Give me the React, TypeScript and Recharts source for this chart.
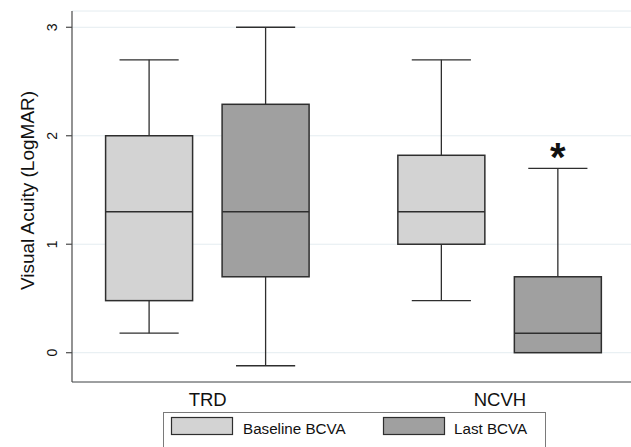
import React from 'react';
import { ComposedChart, Bar, XAxis, YAxis, CartesianGrid, Legend } from 'recharts';

const categories = ['TRD', 'NCVH'];
const seriesNames = ['Baseline BCVA', 'Last BCVA'];

const baselineMin = [0.18, 0.48];
const baselineQ1 = [0.48, 1.0];
const baselineMedian = [1.3, 1.3];
const baselineQ3 = [2.0, 1.82];
const baselineMax = [2.7, 2.7];
const baselineMarks = ['', ''];

const lastMin = [-0.12, 0.0];
const lastQ1 = [0.7, 0.0];
const lastMedian = [1.3, 0.18];
const lastQ3 = [2.29, 0.7];
const lastMax = [3.0, 1.7];
const lastMarks = ['', '*'];

const yTicks = [0, 1, 2, 3];
const yDomain = [-0.27, 3.15];
const yTitle = 'Visual Acuity (LogMAR)';

const FONT = '"Liberation Sans", Arial, Helvetica, sans-serif';
const BASE_FILL = '#d3d3d3';
const LAST_FILL = '#a0a0a0';
const EDGE = '#2e2e2e';
const AXIS = '#4a4a4a';

const data = categories.map((c, i) => ({
  category: c,
  baseline: [baselineMin[i], baselineMax[i]],
  baselineStats: {
    min: baselineMin[i], q1: baselineQ1[i], median: baselineMedian[i], q3: baselineQ3[i], max: baselineMax[i], mark: baselineMarks[i],
  },
  last: [lastMin[i], lastMax[i]],
  lastStats: {
    min: lastMin[i], q1: lastQ1[i], median: lastMedian[i], q3: lastQ3[i], max: lastMax[i], mark: lastMarks[i],
  },
}));

const makeBoxShape = (statsKey: string, fill: string) => (props: any) => {
  const { x, y, width, height, payload } = props;
  const s = payload && payload[statsKey];
  if (!s || x == null || y == null) return <g />;
  const top = Math.min(y, y + height);
  const bottom = Math.max(y, y + height);
  const span = s.max - s.min;
  const py = (v: number) => (span === 0 ? top : top + ((s.max - v) / span) * (bottom - top));
  const cx = x + width / 2;
  const capHalf = width * 0.34;
  const yMax = py(s.max);
  const yMin = py(s.min);
  const yQ1 = py(s.q1);
  const yQ3 = py(s.q3);
  const yMed = py(s.median);
  return (
    <g>
      <line x1={cx} x2={cx} y1={yMax} y2={yQ3} stroke={EDGE} strokeWidth={1.3} />
      <line x1={cx} x2={cx} y1={yQ1} y2={yMin} stroke={EDGE} strokeWidth={1.3} />
      <line x1={cx - capHalf} x2={cx + capHalf} y1={yMax} y2={yMax} stroke={EDGE} strokeWidth={1.3} />
      {Math.abs(yMin - yQ1) > 0.5 && (
        <line x1={cx - capHalf} x2={cx + capHalf} y1={yMin} y2={yMin} stroke={EDGE} strokeWidth={1.3} />
      )}
      <rect x={x} y={yQ3} width={width} height={yQ1 - yQ3} fill={fill} stroke={EDGE} strokeWidth={1.5} />
      <line x1={x} x2={x + width} y1={yMed} y2={yMed} stroke={EDGE} strokeWidth={1.5} />
      {s.mark ? (
        <text x={cx} y={yMax + 3} textAnchor="middle" fontSize={40} fontWeight="bold" fill="#111" fontFamily={FONT}>
          {s.mark}
        </text>
      ) : null}
    </g>
  );
};

const YTick = (props: any) => {
  const { x, y, payload } = props;
  const bx = x - 6.5;
  return (
    <text x={bx} y={y} transform={`rotate(-90, ${bx}, ${y})`} textAnchor="middle" fontSize={14} fill="#111" fontFamily={FONT}>
      {payload.value}
    </text>
  );
};

const YTitle = (props: any) => {
  const vb = props.viewBox || { x: 0, y: 0, width: 72, height: 371 };
  const tx = vb.x + 33.5;
  const ty = vb.y + vb.height / 2 - 6;
  return (
    <text x={tx} y={ty} transform={`rotate(-90, ${tx}, ${ty})`} textAnchor="middle" fontSize={19} fill="#111" fontFamily={FONT}>
      {yTitle}
    </text>
  );
};

const legendSwatchX = [8, 220];
const legendTextX = [80, 291];

const renderLegend = (props: any) => {
  const items = props.payload || [];
  return (
    <svg width={383} height={40} style={{ display: 'block' }}>
      <rect x={0.5} y={0.5} width={382} height={50} fill="#fff" stroke="#7a7a7a" strokeWidth={1} />
      {items.map((it: any, i: number) => (
        <g key={i}>
          <rect x={legendSwatchX[i] + 0.5} y={5.5} width={61} height={17} fill={it.color} stroke={EDGE} strokeWidth={1.2} />
          <text x={legendTextX[i]} y={22} fontSize={15.2} fill="#111" fontFamily={FONT}>
            {it.value}
          </text>
        </g>
      ))}
    </svg>
  );
};

export default function App() {
  return (
    <div style={{ position: 'absolute', left: 0, top: 0, width: 631, height: 447, overflow: 'hidden', background: '#fff' }}>
      <ComposedChart
        width={631}
        height={447}
        data={data}
        margin={{ top: 11, right: 0, bottom: 35, left: 0 }}
        barGap={29.5}
        style={{ fontFamily: FONT }}
      >
        <CartesianGrid horizontal vertical={false} stroke="#e4ecf0" strokeWidth={1} />
        <XAxis
          dataKey="category"
          type="category"
          height={30}
          padding={{ left: -10.4, right: -15.1 }}
          tickLine={false}
          tickSize={0}
          tickMargin={11}
          axisLine={{ stroke: AXIS, strokeWidth: 1.2 }}
          tick={{ fontSize: 18.5, fill: '#111', fontFamily: FONT }}
          interval={0}
        />
        <YAxis
          type="number"
          width={72}
          domain={yDomain}
          ticks={yTicks}
          interval={0}
          allowDataOverflow
          tickSize={6}
          tickLine={{ stroke: AXIS, strokeWidth: 1.2 }}
          axisLine={{ stroke: AXIS, strokeWidth: 1.2 }}
          tick={<YTick />}
          label={<YTitle />}
        />
        <Legend
          layout="horizontal"
          verticalAlign="middle"
          align="center"
          wrapperStyle={{ position: 'absolute', left: 163, top: 412, width: 383, height: 40 }}
          content={renderLegend}
        />
        <Bar
          dataKey="baseline"
          name={seriesNames[0]}
          fill={BASE_FILL}
          barSize={87}
          isAnimationActive={false}
          shape={makeBoxShape('baselineStats', BASE_FILL)}
        />
        <Bar
          dataKey="last"
          name={seriesNames[1]}
          fill={LAST_FILL}
          barSize={87}
          isAnimationActive={false}
          shape={makeBoxShape('lastStats', LAST_FILL)}
        />
      </ComposedChart>
    </div>
  );
}
